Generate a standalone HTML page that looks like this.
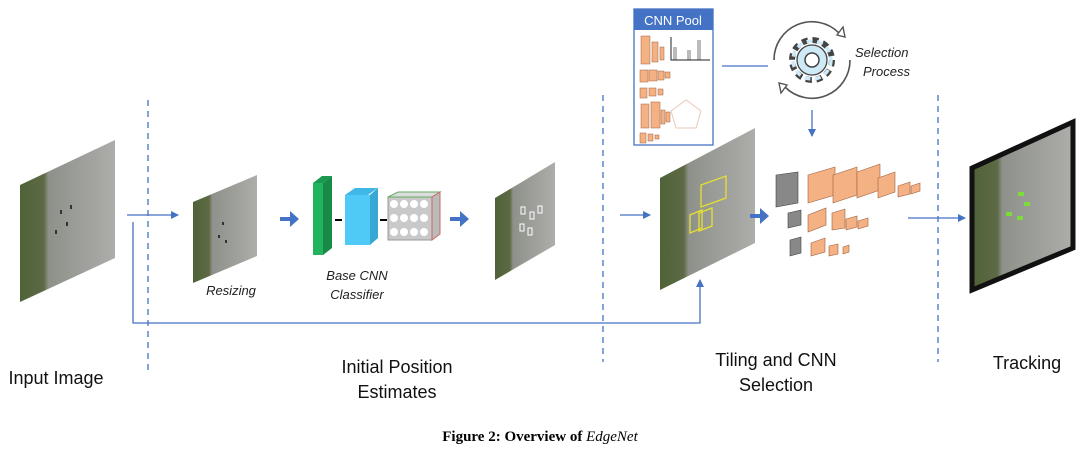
<!DOCTYPE html>
<html><head><style>body{margin:0;background:#fff}svg{display:block}</style></head><body>
<svg width="1080" height="454" viewBox="0 0 1080 454" xmlns="http://www.w3.org/2000/svg" font-family="Liberation Sans, sans-serif">
<defs>
<linearGradient id="g" x1="0" x2="1" y1="0" y2="0"><stop offset="0" stop-color="#4f6238"/><stop offset="0.25" stop-color="#5d6a45"/><stop offset="0.3" stop-color="#8e918a"/><stop offset="1" stop-color="#adadaa"/></linearGradient>
<marker id="a" markerWidth="8" markerHeight="8" refX="7" refY="4" orient="auto" markerUnits="userSpaceOnUse"><path d="M0,0 L8,4 L0,8z" fill="#4472c4"/></marker>
</defs>
<g stroke="#4472c4" stroke-width="1.3" stroke-dasharray="6,5" fill="none">
<line x1="148" y1="100" x2="148" y2="372"/><line x1="603" y1="95" x2="603" y2="362"/><line x1="938" y1="95" x2="938" y2="362"/>
</g>
<g fill="url(#g)">
<polygon points="20,185 115,140 115,258 20,302"/>
<polygon points="193,202 257,175 257,256 193,283"/>
<polygon points="495,198 555,162 555,245 495,280"/>
<polygon points="660,178 755,128 755,243 660,290"/>
</g>
<polygon points="972,168 1073,122 1073,248 972,290" fill="url(#g)" stroke="#111" stroke-width="5"/>
<g fill="#333"><rect x="60" y="210" width="2" height="4"/><rect x="70" y="205" width="2" height="4"/><rect x="55" y="230" width="2" height="4"/><rect x="66" y="222" width="2" height="4"/><rect x="218" y="235" width="2" height="3"/><rect x="225" y="240" width="2" height="3"/><rect x="222" y="222" width="2" height="3"/></g>
<g fill="#7ddc3a"><rect x="1018" y="192" width="6" height="4"/><rect x="1006" y="212" width="6" height="4"/><rect x="1017" y="216" width="6" height="4"/><rect x="1024" y="202" width="6" height="4"/></g>
<g fill="none" stroke="#fff" stroke-width="1"><rect x="521" y="207" width="4" height="7"/><rect x="530" y="212" width="4" height="7"/><rect x="538" y="206" width="4" height="7"/><rect x="520" y="224" width="4" height="7"/><rect x="528" y="228" width="4" height="7"/></g>
<g fill="none" stroke="#e8e030" stroke-width="1.3"><polygon points="701,185 726,176 726,198 701,207"/><polygon points="690,215 702,210 702,228 690,233"/><polygon points="699,213 712,208 712,226 699,231"/></g>
<g stroke="#4472c4" stroke-width="1.3" fill="none">
<line x1="127" y1="215" x2="178" y2="215" marker-end="url(#a)"/>
<polyline points="133,222 133,323 700,323 700,280" marker-end="url(#a)"/>
<line x1="620" y1="215" x2="650" y2="215" marker-end="url(#a)"/>
<line x1="908" y1="218" x2="965" y2="218" marker-end="url(#a)"/>
<line x1="722" y1="66" x2="768" y2="66"/>
<line x1="812" y1="110" x2="812" y2="136" marker-end="url(#a)"/>
</g>
<g fill="#4472c4"><path d="M280,217h10v-6l9,8-9,8v-6h-10z"/><path d="M450,217h10v-6l9,8-9,8v-6h-10z"/><path d="M750,214h10v-6l9,8-9,8v-6h-10z"/></g>
<polygon points="313,183 322,176 332,176 323,183" fill="#1a9a50"/><rect x="313" y="183" width="10" height="72" fill="#22b35e"/><polygon points="323,183 332,176 332,248 323,255" fill="#178a47"/>
<line x1="335" y1="220" x2="342" y2="220" stroke="#000" stroke-width="2"/>
<polygon points="345,195 355,188 378,188 368,195" fill="#3fb8e8"/><rect x="345" y="195" width="25" height="50" fill="#4fc9f5"/><polygon points="370,195 378,188 378,238 370,245" fill="#37a7d4"/>
<line x1="380" y1="220" x2="387" y2="220" stroke="#000" stroke-width="2"/>
<rect x="388" y="197" width="44" height="43" fill="#c9c9c9" stroke="#999"/><polygon points="388,197 398,192 440,192 432,197" fill="#ddd" stroke="#6a6"/><polygon points="432,197 440,192 440,234 432,240" fill="#bbb" stroke="#c66"/>
<g fill="#fff"><circle cx="394" cy="204" r="4"/><circle cx="404" cy="204" r="4"/><circle cx="414" cy="204" r="4"/><circle cx="424" cy="204" r="4"/><circle cx="394" cy="218" r="4"/><circle cx="404" cy="218" r="4"/><circle cx="414" cy="218" r="4"/><circle cx="424" cy="218" r="4"/><circle cx="394" cy="232" r="4"/><circle cx="404" cy="232" r="4"/><circle cx="414" cy="232" r="4"/><circle cx="424" cy="232" r="4"/></g>
<rect x="634" y="9" width="79" height="136" fill="#fff" stroke="#4472c4" stroke-width="1.3"/>
<rect x="634" y="9" width="79" height="21" fill="#4472c4"/>
<text x="673" y="25" font-size="13" fill="#fff" text-anchor="middle">CNN Pool</text>
<g fill="#f4b183" stroke="#a06040" stroke-width="0.5">
<rect x="641" y="36" width="9" height="28"/><rect x="652" y="42" width="6" height="20"/><rect x="660" y="47" width="4" height="13"/>
<rect x="640" y="70" width="8" height="12"/><rect x="649" y="70" width="8" height="11"/><rect x="658" y="71" width="6" height="9"/><rect x="665" y="72" width="5" height="6"/>
<rect x="640" y="88" width="7" height="10"/><rect x="649" y="88" width="7" height="8"/><rect x="658" y="89" width="5" height="6"/>
<rect x="641" y="104" width="8" height="24"/><rect x="651" y="102" width="9" height="26"/><rect x="661" y="110" width="4" height="14"/><rect x="666" y="112" width="4" height="10"/>
<rect x="640" y="133" width="6" height="10"/><rect x="648" y="134" width="5" height="7"/><rect x="655" y="135" width="4" height="4"/>
</g>
<g fill="#bbb"><rect x="673" y="47" width="4" height="13"/><rect x="687" y="50" width="4" height="10"/><rect x="697" y="40" width="4" height="20"/></g>
<polyline points="671,37 671,60 710,60" fill="none" stroke="#222"/>
<polygon points="686,100 701,111 696,128 676,128 671,111" fill="none" stroke="#e8c8b8"/>
<path d="M839,33 A38,38 0 0 0 774,60" fill="none" stroke="#555" stroke-width="1.6"/>
<path d="M785,87 A38,38 0 0 0 850,60" fill="none" stroke="#555" stroke-width="1.6"/>
<polygon points="837,35 843,27 845,37" fill="none" stroke="#555" stroke-width="1.4"/>
<polygon points="787,85 781,93 779,83" fill="none" stroke="#555" stroke-width="1.4"/>
<circle cx="812" cy="60" r="20" fill="none" stroke="#444" stroke-width="6" stroke-dasharray="6,4.5"/>
<circle cx="812" cy="60" r="19" fill="none" stroke="#cfeaf7" stroke-width="3.5" stroke-dasharray="6,4.5"/>
<circle cx="812" cy="60" r="15" fill="#cfeaf7" stroke="#444" stroke-width="1.3"/>
<circle cx="812" cy="60" r="7" fill="#fff" stroke="#444" stroke-width="1.5"/>
<text x="855" y="57" font-size="13" font-style="italic" fill="#222">Selection</text>
<text x="863" y="76" font-size="13" font-style="italic" fill="#222">Process</text>
<g fill="#888" stroke="#444" stroke-width="0.6"><polygon points="776,175 798,172 798,203 776,207"/><polygon points="788,213 801,210 801,225 788,228"/><polygon points="790,240 801,237 801,253 790,256"/></g>
<g fill="#f4b183" stroke="#a06040" stroke-width="0.6">
<polygon points="808,175 835,167 835,195 808,203"/><polygon points="833,175 857,167 857,195 833,203"/><polygon points="857,172 880,164 880,190 857,198"/><polygon points="878,178 895,172 895,192 878,198"/><polygon points="898,186 910,182 910,194 898,197"/><polygon points="911,186 920,183 920,191 911,194"/>
<polygon points="808,215 826,208 826,225 808,232"/><polygon points="832,213 845,209 845,228 832,230"/><polygon points="846,219 857,216 857,227 846,230"/><polygon points="858,221 868,218 868,226 858,229"/>
<polygon points="811,243 825,238 825,252 811,256"/><polygon points="829,246 838,244 838,254 829,256"/><polygon points="843,247 849,245 849,252 843,254"/>
</g>
<g font-size="13" font-style="italic" fill="#222" text-anchor="middle"><text x="231" y="295">Resizing</text><text x="357" y="280">Base CNN</text><text x="357" y="299">Classifier</text></g>
<g font-size="18" fill="#111" text-anchor="middle"><text x="56" y="384">Input Image</text><text x="397" y="373">Initial Position</text><text x="397" y="398">Estimates</text><text x="776" y="366">Tiling and CNN</text><text x="776" y="391">Selection</text><text x="1027" y="369">Tracking</text></g>
<text x="540" y="441" font-size="15" font-weight="bold" text-anchor="middle" font-family="Liberation Serif, serif">Figure 2: Overview of <tspan font-style="italic" font-weight="normal">EdgeNet</tspan></text>
</svg>
</body></html>
